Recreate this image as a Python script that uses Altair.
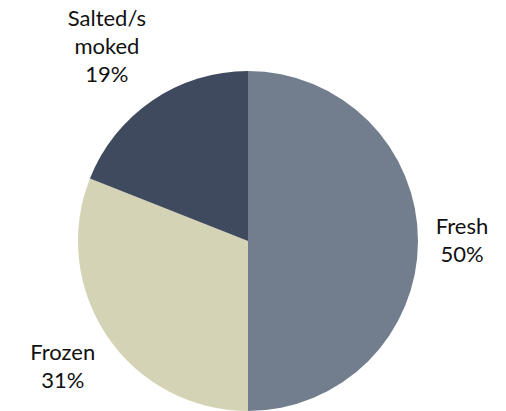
import altair as alt
import pandas as pd
import math

categories = ["Fresh", "Frozen", "Salted/smoked"]
shares = [50, 31, 19]
labels = [["Fresh", "50%"], ["Frozen", "31%"], ["Salted/s", "moked", "19%"]]
colors = ["#727e8e", "#d5d3b5", "#3f4a5e"]
label_radius = [214, 224, 251]

df = pd.DataFrame({
    "category": categories,
    "share": shares,
    "label": labels,
    "order": [0, 1, 2],
})

theta_scale = alt.Scale(domain=[0, 100], range=[0, 2 * math.pi])

base = alt.Chart(df).transform_window(
    cum="sum(share)", sort=[alt.SortField("order")], frame=[None, 0]
).transform_calculate(
    start="datum.cum - datum.share",
    mid="datum.cum - datum.share / 2",
)

pie = base.mark_arc(outerRadius=170, stroke=None).encode(
    theta=alt.Theta("start:Q", scale=theta_scale, stack=None),
    theta2="cum:Q",
    color=alt.Color("category:N", scale=alt.Scale(domain=categories, range=colors), legend=None),
    x=alt.value(240),
    y=alt.value(233),
)

text = base.mark_text(font="Lato", fontSize=22, lineHeight=28, color="#111111",
                      align="center", baseline="middle", dy=-14).encode(
    theta=alt.Theta("mid:Q", scale=theta_scale, stack=None),
    text=alt.Text("label"),
    radius=alt.Radius("order:Q", scale=alt.Scale(type="linear", domain=[0, 1, 2], range=label_radius, zero=False)),
    x=alt.value(240),
    y=alt.value(233),
)

chart = alt.layer(pie, text).properties(
    width=490, height=403, padding=0,
    autosize=alt.AutoSizeParams(type="none"),
).configure_view(stroke=None)

chart.save("out.html", embed_options={"renderer": "svg", "actions": False})
